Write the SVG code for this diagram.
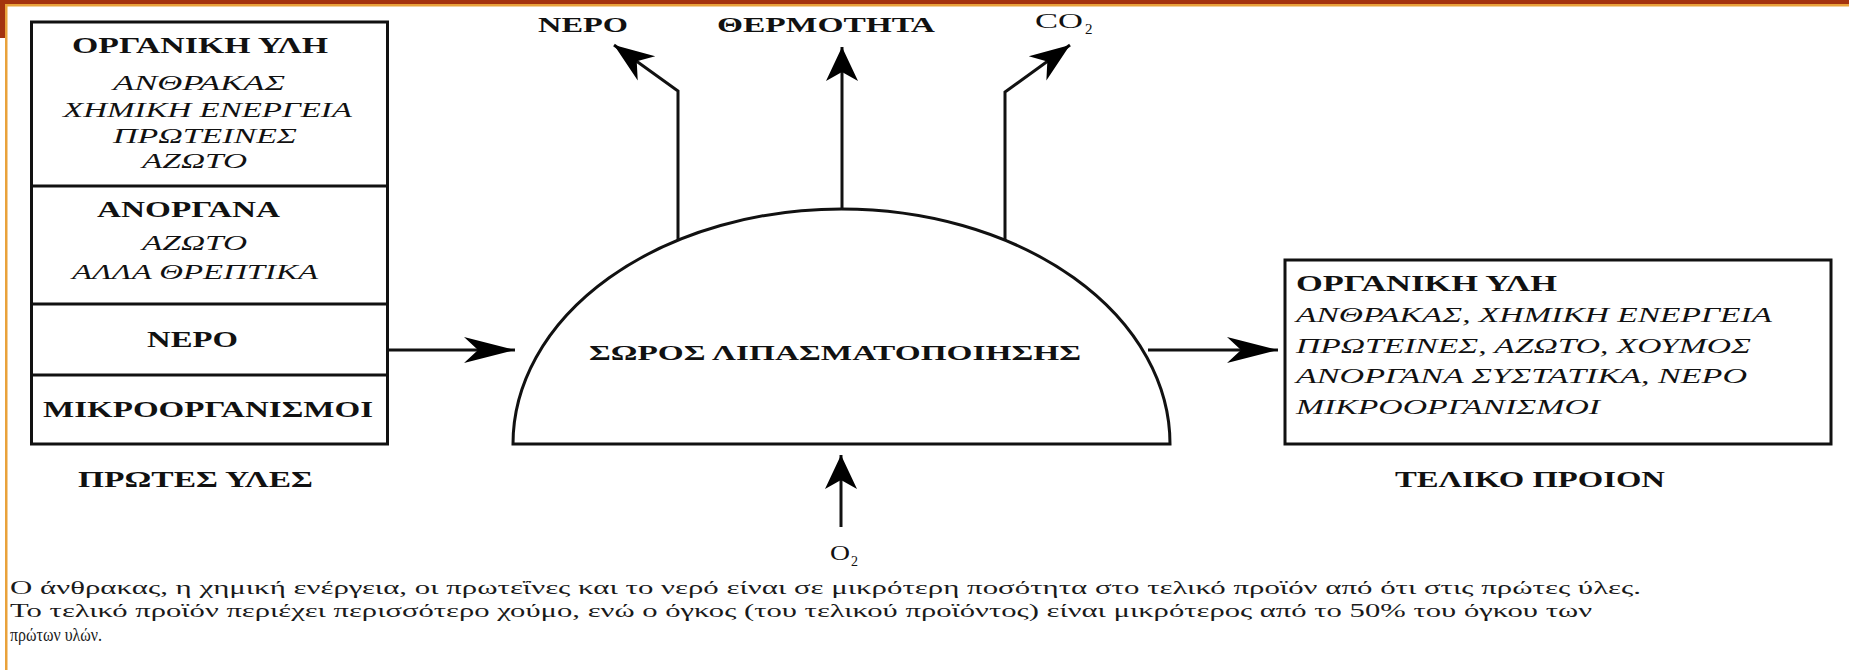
<svg xmlns="http://www.w3.org/2000/svg" width="1849" height="670" viewBox="0 0 1849 670">
<defs>
<style>
.bx{fill:#fff;stroke:#111;stroke-width:3}
.ln{fill:none;stroke:#111;stroke-width:3}
.b{font-family:"Liberation Serif","Times New Roman",serif;font-weight:bold;fill:#111}
.i{font-family:"Liberation Serif","Times New Roman",serif;font-style:italic;fill:#111}
.r{font-family:"Liberation Serif","Times New Roman",serif;fill:#111}
.ft{font-family:"Liberation Serif","Times New Roman",serif;font-size:19px;fill:#1a1a1a}
</style>
<marker id="ah-h" markerUnits="userSpaceOnUse" orient="auto" overflow="visible" markerWidth="1" markerHeight="1" refX="0" refY="0">
<path d="M0,0 L-51,-13 L-37,0 L-51,13 Z" fill="#000"/>
</marker>
<marker id="ah-v" markerUnits="userSpaceOnUse" orient="auto" overflow="visible" markerWidth="1" markerHeight="1" refX="0" refY="0">
<path d="M0,0 L-34,-16 L-25,0 L-34,16 Z" fill="#000"/>
</marker>
<marker id="ah-d" markerUnits="userSpaceOnUse" orient="auto" overflow="visible" markerWidth="1" markerHeight="1" refX="0" refY="0">
<path d="M0,0 L-40,-15 L-28,0 L-40,15 Z" fill="#000"/>
</marker>
</defs>
<rect width="1849" height="670" fill="#fff"/>
<g id="frame">
<rect x="0" y="0" width="1849" height="4" fill="#A4330E"/>
<rect x="0" y="0" width="5" height="38" fill="#A4330E"/>
<rect x="5" y="4" width="1844" height="2.5" fill="#E9A23B"/>
<rect x="5" y="4" width="2.5" height="666" fill="#E9A23B"/>
</g>
<g id="raw-materials">
<rect class="bx" x="31.5" y="22" width="356" height="422"/>
<line class="ln" x1="31.5" y1="186" x2="387.5" y2="186"/>
<line class="ln" x1="31.5" y1="304" x2="387.5" y2="304"/>
<line class="ln" x1="31.5" y1="375" x2="387.5" y2="375"/>
<text class="b" font-size="23" x="72" y="53" textLength="256" lengthAdjust="spacingAndGlyphs">ΟΡΓΑΝΙΚΗ ΥΛΗ</text>
<text class="i" font-size="21" x="113" y="90" textLength="172" lengthAdjust="spacingAndGlyphs">ΑΝΘΡΑΚΑΣ</text>
<text class="i" font-size="21" x="63" y="117" textLength="289" lengthAdjust="spacingAndGlyphs">ΧΗΜΙΚΗ ΕΝΕΡΓΕΙΑ</text>
<text class="i" font-size="21" x="113" y="143" textLength="184" lengthAdjust="spacingAndGlyphs">ΠΡΩΤΕΙΝΕΣ</text>
<text class="i" font-size="21" x="142" y="168" textLength="105" lengthAdjust="spacingAndGlyphs">ΑΖΩΤΟ</text>
<text class="b" font-size="23" x="97" y="217" textLength="183" lengthAdjust="spacingAndGlyphs">ΑΝΟΡΓΑΝΑ</text>
<text class="i" font-size="21" x="142" y="250" textLength="105" lengthAdjust="spacingAndGlyphs">ΑΖΩΤΟ</text>
<text class="i" font-size="21" x="72" y="279" textLength="246" lengthAdjust="spacingAndGlyphs">ΑΛΛΑ ΘΡΕΠΤΙΚΑ</text>
<text class="b" font-size="23" x="147" y="347" textLength="91" lengthAdjust="spacingAndGlyphs">ΝΕΡΟ</text>
<text class="b" font-size="23" x="43" y="417" textLength="330" lengthAdjust="spacingAndGlyphs">ΜΙΚΡΟΟΡΓΑΝΙΣΜΟΙ</text>
<text class="b" font-size="23" x="78" y="487" textLength="235" lengthAdjust="spacingAndGlyphs">ΠΡΩΤΕΣ ΥΛΕΣ</text>
</g>
<g id="compost-pile">
<path class="ln" d="M513,444 A328.5,235 0 0 1 1170,444 Z" fill="#fff"/>
<text class="b" font-size="22" x="589" y="360" textLength="492" lengthAdjust="spacingAndGlyphs">ΣΩΡΟΣ ΛΙΠΑΣΜΑΤΟΠΟΙΗΣΗΣ</text>
</g>
<g id="final-product">
<rect class="bx" x="1285" y="260" width="546" height="184" stroke="#2a2a2a" stroke-width="4"/>
<text class="b" font-size="23" x="1296" y="291" textLength="261" lengthAdjust="spacingAndGlyphs">ΟΡΓΑΝΙΚΗ ΥΛΗ</text>
<text class="i" font-size="21" x="1296" y="322" textLength="476" lengthAdjust="spacingAndGlyphs">ΑΝΘΡΑΚΑΣ, ΧΗΜΙΚΗ ΕΝΕΡΓΕΙΑ</text>
<text class="i" font-size="21" x="1296" y="353" textLength="455" lengthAdjust="spacingAndGlyphs">ΠΡΩΤΕΙΝΕΣ, ΑΖΩΤΟ, ΧΟΥΜΟΣ</text>
<text class="i" font-size="21" x="1296" y="383" textLength="451" lengthAdjust="spacingAndGlyphs">ΑΝΟΡΓΑΝΑ ΣΥΣΤΑΤΙΚΑ, ΝΕΡΟ</text>
<text class="i" font-size="21" x="1296" y="414" textLength="304" lengthAdjust="spacingAndGlyphs">ΜΙΚΡΟΟΡΓΑΝΙΣΜΟΙ</text>
<text class="b" font-size="23" x="1395" y="487" textLength="270" lengthAdjust="spacingAndGlyphs">ΤΕΛΙΚΟ ΠΡΟΙΟΝ</text>
</g>
<g id="label-water">
<text class="b" font-size="22" x="538" y="32" textLength="90" lengthAdjust="spacingAndGlyphs">ΝΕΡΟ</text>
</g>
<g id="label-heat">
<text class="b" font-size="22" x="717" y="32" textLength="218" lengthAdjust="spacingAndGlyphs">ΘΕΡΜΟΤΗΤΑ</text>
</g>
<g id="label-co2">
<text class="r" font-size="22" x="1035" y="28" textLength="48" lengthAdjust="spacingAndGlyphs">CO</text>
<text class="r" font-size="15" x="1085" y="34">2</text>
</g>
<g id="label-o2">
<text class="r" font-size="20" x="830" y="560" textLength="20" lengthAdjust="spacingAndGlyphs">O</text>
<text class="r" font-size="14" x="851" y="566">2</text>
</g>
<g id="connectors">
<line class="ln" x1="388" y1="350" x2="515" y2="350" marker-end="url(#ah-h)"/>
<line class="ln" x1="1148" y1="350" x2="1278" y2="350" marker-end="url(#ah-h)"/>
<line class="ln" x1="842" y1="209" x2="842" y2="47" marker-end="url(#ah-v)"/>
<line class="ln" x1="841" y1="527" x2="841" y2="455" marker-end="url(#ah-v)"/>
<polyline class="ln" points="678,241 678,91 614,45" marker-end="url(#ah-d)"/>
<polyline class="ln" points="1005,241 1005,92 1070,45" marker-end="url(#ah-d)"/>
</g>
<g id="caption">
<text class="ft" x="10" y="594" textLength="1631" lengthAdjust="spacingAndGlyphs">Ο άνθρακας, η χημική ενέργεια, οι πρωτεΐνες και το νερό είναι σε μικρότερη ποσότητα στο τελικό προϊόν από ότι στις πρώτες ύλες.</text>
<text class="ft" x="10" y="617" textLength="1582" lengthAdjust="spacingAndGlyphs">Το τελικό προϊόν περιέχει περισσότερο χούμο, ενώ ο όγκος (του τελικού προϊόντος) είναι μικρότερος από το 50% του όγκου των</text>
<text class="ft" x="10" y="641" textLength="92" lengthAdjust="spacingAndGlyphs">πρώτων υλών.</text>
</g>
</svg>
